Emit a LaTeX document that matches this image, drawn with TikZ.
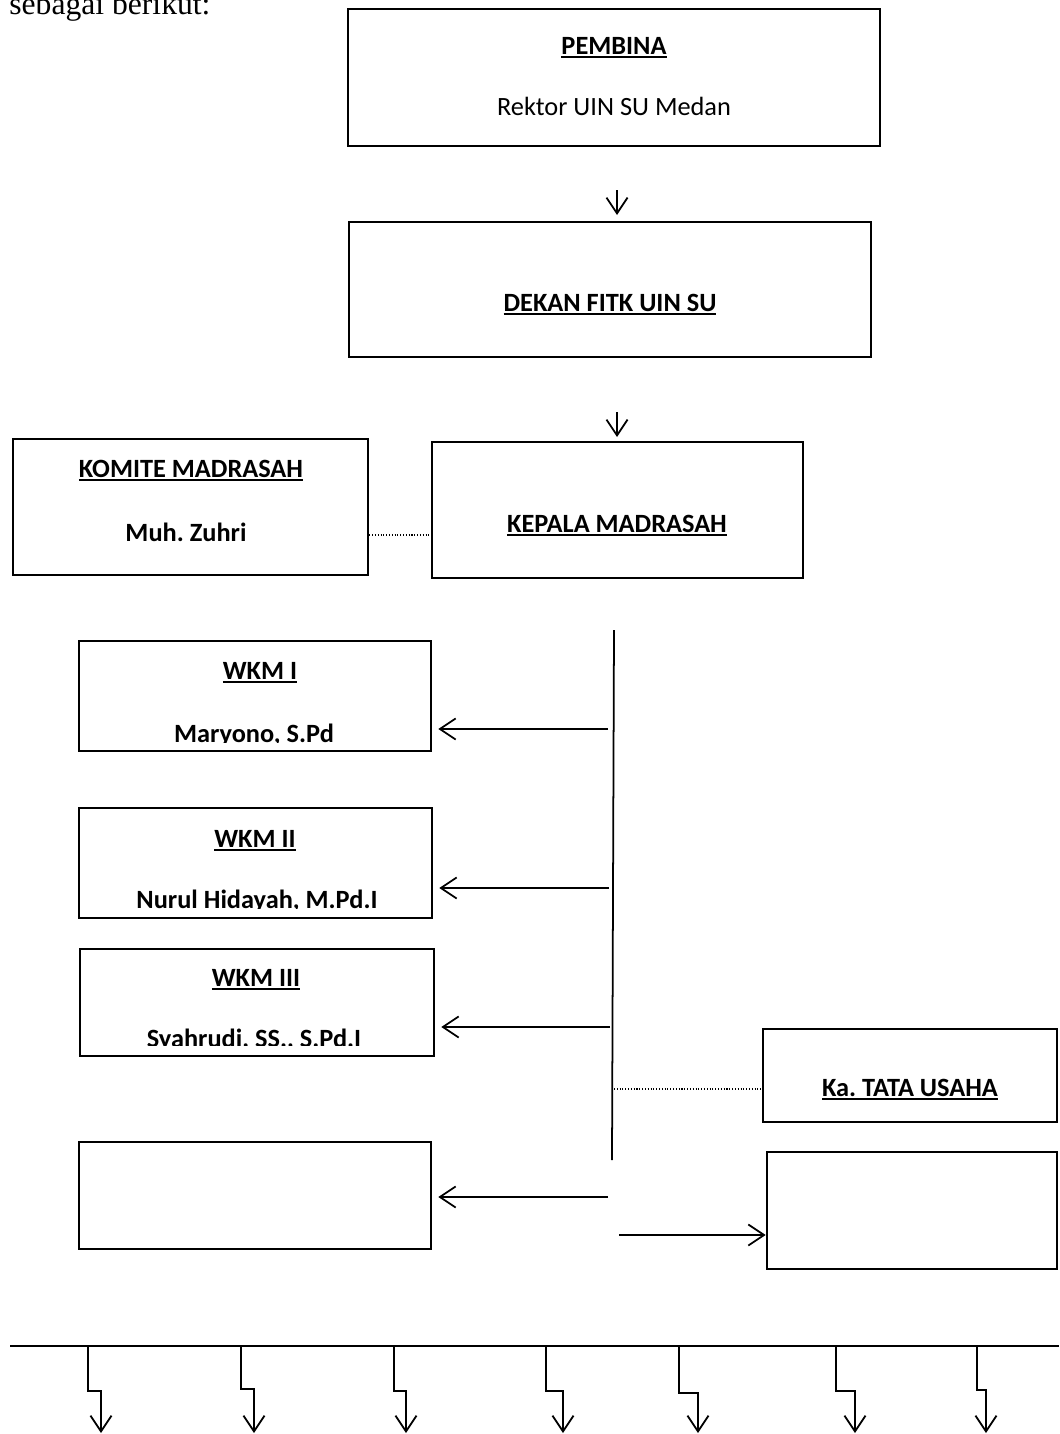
\documentclass[tikz,border=0pt]{standalone}
\usepackage{fontspec}
\setmainfont{Carlito}
\newfontfamily\introfont{Liberation Serif}
\usetikzlibrary{fit,arrows.meta}
\frenchspacing
\newcommand{\hl}[1]{\setbox0\hbox{#1}\rlap{\rule[-2.3pt]{\wd0}{1.1pt}}\box0}
\tikzset{
  box/.style={draw, line width=1.5pt, inner sep=0pt},
  head/.style={font=\fontsize{15}{18}\selectfont\bfseries, anchor=base, inner sep=0pt},
  plain/.style={font=\fontsize{15}{18}\selectfont, anchor=base, inner sep=0pt},
  arr/.style={-{Straight Barb[length=9pt,width=12pt]}, line width=1pt},
  link/.style={densely dotted, line width=0.6pt},
  spine/.style={line width=1pt},
  rail/.style={line width=0.9pt}
}

\begin{document}
\begin{tikzpicture}[x=0.02cm, y=-0.02cm]
  \useasboundingbox (0,0) rectangle (1059,1434);
  % intro line
  \node[anchor=base west, inner sep=0pt, font=\introfont\fontsize{18}{21}\selectfont] (intro) at (9,14) {sebagai berikut:};

  % boxes
  \node[box, fit={(348,9) (880,146)}] (pembina) {};
  \node[box, fit={(349,222) (871,357)}] (dekan) {};
  \node[box, fit={(13,439) (368,575)}] (komite) {};
  \node[box, fit={(432,442) (803,578)}] (kepala) {};
  \node[box, fit={(79,641) (431,751)}] (wkmA) {};
  \node[box, fit={(79,808) (432,918)}] (wkmB) {};
  \node[box, fit={(80,949) (434,1056)}] (wkmC) {};
  \node[box, fit={(763,1029) (1057,1122)}] (tatausaha) {};
  \node[box, fit={(79,1142) (431,1249)}] (blankL) {};
  \node[box, fit={(767,1152) (1057,1269)}] (blankR) {};

  % texts
  \node[head] (pembinaT) at (614,54) {\hl{PEMBINA}};
  \node[plain] (pembinaN) at (614,115) {Rektor UIN SU Medan};
  \node[head] (dekanT) at (610,311) {\hl{DEKAN FITK UIN SU}};
  \node[head] (komiteT) at (191,477) {\hl{KOMITE MADRASAH}};
  \node[head] (komiteN) at (186,541) {Muh. Zuhri};
  \node[head] (kepalaT) at (617,532) {\hl{KEPALA MADRASAH}};
  \node[head] (wkmAT) at (260,679) {\hl{WKM I}};
  \node[head] (wkmBT) at (255,847) {\hl{WKM II}};
  \node[head] (wkmCT) at (256,986) {\hl{WKM III}};
  \node[head] (tataT) at (910,1096) {\hl{Ka. TATA USAHA}};
  % names cut off by the box frame
  \begin{scope}
    \clip (81,643) rectangle (429,742.6);
    \node[head] (wkmAN) at (254,742) {Maryono, S.Pd};
  \end{scope}
  \begin{scope}
    \clip (81,810) rectangle (430,908.6);
    \node[head] (wkmBN) at (257,908) {Nurul Hidayah, M.Pd.I};
  \end{scope}
  \begin{scope}
    \clip (82,951) rectangle (432,1045.5);
    \node[head] (wkmCN) at (254,1047) {Syahrudi, SS., S.Pd.I};
  \end{scope}

  % down arrows
  \coordinate (p1) at (617,190);
  \coordinate (p2) at (617,215);
  \draw[arr] (p1) -- (p2);
  \coordinate (q1) at (617,412);
  \coordinate (q2) at (617,437);
  \draw[arr] (q1) -- (q2);

  % komite - kepala
  \coordinate (kA) at (365,535);
  \draw[link] (komite.east |- kA) -- (kA -| kepala.west);

  % spine
  \coordinate (spineTop) at (614,630);
  \coordinate (spineBot) at (612,1160);
  \draw[spine] (spineTop) -- (spineBot);

  % spine -> boxes
  \coordinate (sA) at (608,729);
  \coordinate (sB) at (609,888);
  \coordinate (sC) at (610,1027);
  \coordinate (sD) at (608,1197);
  \draw[arr, shorten >=3.4pt] (sA) -- (sA -| wkmA.east);
  \draw[arr, shorten >=3.4pt] (sB) -- (sB -| wkmB.east);
  \draw[arr, shorten >=3.4pt] (sC) -- (sC -| wkmC.east);
  \draw[arr, shorten >=3.4pt] (sD) -- (sD -| blankL.east);
  \coordinate (tA) at (614,1089);
  \draw[link] (tA) -- (tA -| tatausaha.west);
  \coordinate (sE) at (619,1235);
  \draw[arr] (sE) -- (sE -| blankR.west);

  % bottom rail
  \coordinate (railL) at (10,1346);
  \coordinate (railR) at (1059,1346);
  \draw[rail] (railL) -- (railR);
  \foreach \xa/\xb/\ys in {88/101/1391, 241/254/1389, 394/406/1391, 546/563/1391, 679/698/1393, 836/855/1391, 977/986/1390}
    \draw[arr] (\xa,1346) |- (\xb,\ys) -- (\xb,1433);
\end{tikzpicture}
\end{document}
